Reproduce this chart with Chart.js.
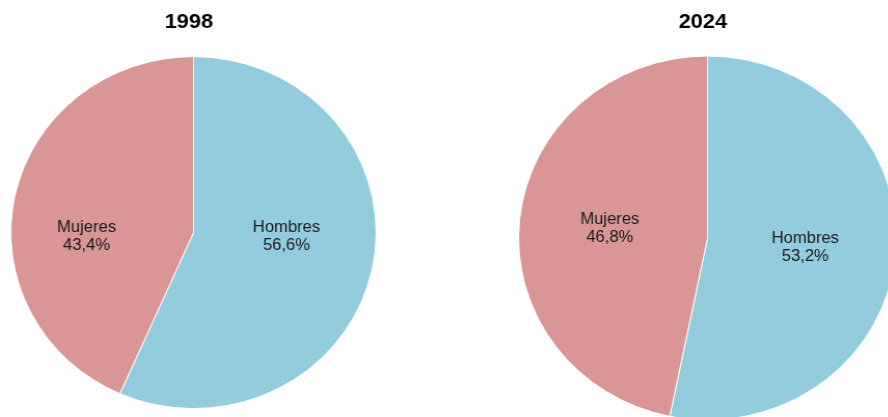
<!DOCTYPE html>
<html>
<head>
<meta charset="utf-8">
<script src="https://cdn.jsdelivr.net/npm/chart.js@4"></script>
<style>
  html, body { margin: 0; padding: 0; background: #ffffff; width: 888px; height: 417px; overflow: hidden; position: relative; }
  .wrap { position: absolute; }
  canvas { display: block; }
</style>
</head>
<body>
<div class="wrap" id="w1" style="left:0px; top:0px; transform-origin:193.4px 0; transform:scaleX(1.038);"><canvas id="c1" width="388" height="417"></canvas></div>
<div class="wrap" id="w2" style="left:500px; top:0px; transform-origin:207.3px 0; transform:scaleX(1.038);"><canvas id="c2" width="415" height="430"></canvas></div>
<script>
const categories = ['Hombres', 'Mujeres'];
const years = ['1998', '2024'];
const values1998 = [56.6, 43.4];
const values2024 = [53.2, 46.8];
const sliceColors = ['#93CDDD', '#D99694'];

const labelPlugin = {
  id: 'sliceLabels',
  afterDatasetsDraw(chart, args, opts) {
    const ctx = chart.ctx;
    const meta = chart.getDatasetMeta(0);
    const ds = chart.data.datasets[0];
    ctx.save();
    ctx.font = '16px "Liberation Sans", Arial, sans-serif';
    ctx.fillStyle = '#1a1a1a';
    ctx.textAlign = 'center';
    ctx.textBaseline = 'middle';
    meta.data.forEach((arc, i) => {
      const p = arc.getProps(['x', 'y', 'startAngle', 'endAngle', 'outerRadius'], true);
      const mid = (p.startAngle + p.endAngle) / 2;
      const f = opts.fraction || 0.52;
      const dx = (opts.nudgeX && opts.nudgeX[i]) || 0;
      const dy = (opts.nudgeY && opts.nudgeY[i]) || 0;
      const x = p.x + Math.cos(mid) * p.outerRadius * f + dx;
      const y = p.y + Math.sin(mid) * p.outerRadius * f + dy;
      const pct = ds.data[i].toFixed(1).replace('.', ',') + '%';
      ctx.fillText(chart.data.labels[i], x, y - 9);
      ctx.fillText(pct, x, y + 9);
    });
    // chart title, centred slightly left of the pie as in the source
    ctx.font = 'bold 21px "Liberation Sans", Arial, sans-serif';
    ctx.fillStyle = '#000000';
    const a = chart.chartArea;
    ctx.fillText(opts.title, (a.left + a.right) / 2 + (opts.titleDX || 0), opts.titleY);
    ctx.restore();
  }
};

function makePie(id, title, values, radius, layoutPad, nudgeX, nudgeY) {
  return new Chart(document.getElementById(id), {
    type: 'pie',
    data: {
      labels: categories,
      datasets: [{
        data: values,
        backgroundColor: sliceColors,
        borderColor: '#ffffff',
        borderWidth: 1,
        radius: radius
      }]
    },
    options: {
      responsive: false,
      animation: false,
      layout: { padding: layoutPad },
      plugins: {
        legend: { display: false },
        tooltip: { enabled: false },
        title: { display: false },
        sliceLabels: { fraction: 0.52, nudgeX: nudgeX, nudgeY: nudgeY, title: title, titleDX: -4.5, titleY: 22.6 }
      }
    },
    plugins: [labelPlugin]
  });
}

makePie('c1', years[0], values1998, 176, { left: 0, right: 1, top: 56.8, bottom: 8.6 }, [0, -13.5], [-15, 23]);
makePie('c2', years[1], values2024, 182, { left: 0, right: 0, top: 56, bottom: 10 }, [0, 0], [0, 0]);
</script>
</body>
</html>
